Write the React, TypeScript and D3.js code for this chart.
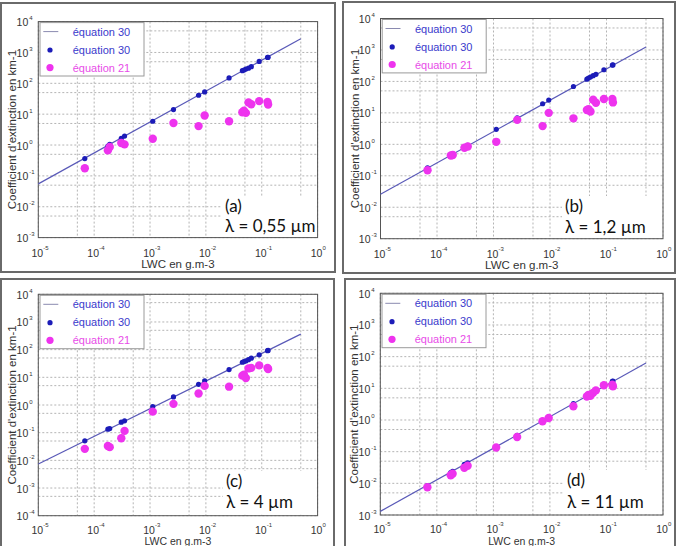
import React from "react";
import * as d3 from "d3";

// LWC (g.m-3) shared by the four panels
const LWC = [
  6.8e-5, 1.76e-4, 1.9e-4, 3.06e-4, 3.5e-4, 1.12e-3, 2.63e-3, 7.4e-3, 9.5e-3,
  0.026, 0.045, 0.048, 0.052, 0.058, 0.065, 0.09, 0.127, 0.13,
];

// fitted line (équation 30) : LWC at both ends, then extinction per panel
const FIT_X = [1e-5, 0.5];
const fitA = [0.055, 2800];
const fitB = [0.026, 1250];
const fitC = [0.0074, 365];
const fitD = [0.0013, 63];

// extinction coefficient (km-1), équation 30 points
const blueA = [0.364, 0.93, 1.05, 1.64, 1.95, 5.9, 14.1, 41, 52.5, 149, 257, 270, 290, 310, 345, 513, 690, 700];
const blueB = [0.18, 0.46, 0.5, 0.8, 0.92, 3.0, 6.9, 19.5, 25.5, 69, 118, 128, 138, 152, 168, 235, 330, 335];
const blueC = [0.0506, 0.134, 0.141, 0.24, 0.267, 0.875, 1.96, 5.6, 7.4, 19, 35, 37, 39, 43.6, 49, 65, 92, 94];
const blueD = [0.0085, 0.022, 0.024, 0.04, 0.044, 0.14, 0.33, 0.93, 1.2, 3.3, 5.7, 6.1, 6.6, 7.4, 8.3, 11.5, 16.5, 16.8];

// équation 21 points
const pinkA = [0.177, 0.67, 0.86, 1.16, 1.05, 1.6, 5.2, 4.1, 9.1, 5.9, 11.6, 13, 11, 24, 21, 26.5, 25, 20.5];
const pinkB = [0.15, 0.44, 0.46, 0.78, 0.85, 1.2, 6.0, 3.8, 10, 6.7, 12.4, 13, 11, 26, 21, 27.5, 27.5, 21.5];
const pinkC = [0.026, 0.033, 0.03, 0.063, 0.116, 0.575, 1.1, 2.6, 4.9, 4.6, 11.5, 12.5, 9.5, 21, 22, 27, 22, 20];
const pinkD = [0.0075, 0.018, 0.02, 0.031, 0.036, 0.135, 0.29, 0.91, 1.16, 2.7, 5.5, 6.2, 5.8, 7.2, 8.6, 12.5, 13, 11.5];

const X_EXP = [-5, 0];
const LEGEND = ["équation 30", "équation 30", "équation 21"];
const Y_TITLE = "Coefficient d'extinction en km-1";
const X_TITLE = "LWC en g.m-3";

const PANELS = [
  { frame: [1, 3, 334, 269], xr: [38.3, 317.6], yr: [237.6, 21.6], yExp: [-3, 4], fit: fitA, blue: blueA, pink: pinkA, tag: "(a)", lambda: "λ = 0,55 µm", note: [225, 212, 232] },
  { frame: [343, 2, 332, 271], xr: [380.5, 663], yr: [238.7, 18.5], yExp: [-3, 4], fit: fitB, blue: blueB, pink: pinkB, tag: "(b)", lambda: "λ = 1,2 µm", note: [565, 212, 233] },
  { frame: [1, 279, 333, 272], xr: [38.3, 317.6], yr: [515.7, 294.3], yExp: [-4, 4], fit: fitC, blue: blueC, pink: pinkC, tag: "(c)", lambda: "λ = 4 µm", note: [226, 487, 508] },
  { frame: [345, 279, 330, 272], xr: [380.3, 663], yr: [515, 293.3], yExp: [-3, 4], fit: fitD, blue: blueD, pink: pinkD, tag: "(d)", lambda: "λ = 11 µm", note: [567, 486, 508] },
];

const SANS = "'Liberation Sans', Arial, sans-serif";
const BLUE = "#1c1cb8";
const PINK = "#ee33ee";

function gridValues(lo, hi) {
  const out = [];
  for (let e = lo; e <= hi; e++) {
    out.push(Number(`1e${e}`));
    if (e < hi) out.push(Number(`5e${e}`));
  }
  return out;
}

function Panel({ p }) {
  const x = d3.scaleLog().domain([Number(`1e${X_EXP[0]}`), Number(`1e${X_EXP[1]}`)]).range(p.xr);
  const y = d3.scaleLog().domain([Number(`1e${p.yExp[0]}`), Number(`1e${p.yExp[1]}`)]).range(p.yr);
  const [x0, x1] = p.xr;
  const [yb, yt] = p.yr;
  const xTicks = d3.range(X_EXP[0], X_EXP[1] + 1);
  const yTicks = d3.range(p.yExp[0], p.yExp[1] + 1);
  const line = d3.line().x((d) => x(d[0])).y((d) => y(d[1]));
  const fitPts = FIT_X.map((v, i) => [v, p.fit[i]]);
  const [nx, ny1, ny2] = p.note;
  // bottom panels are cut by the page edge: squeeze labels to stay inside
  const cut = yb + 30.5 > 543;
  const tickY = cut ? yb + 18 : yb + 19.5;
  const xTitleY = cut ? 544.5 : yb + 30.5;
  const xTitleSize = cut ? 10.5 : 11.5;

  return (
    <g>
      <rect x={p.frame[0]} y={p.frame[1]} width={p.frame[2]} height={p.frame[3]} fill="#fff" stroke="#6a6a6a" strokeWidth={2} />

      {/* grid */}
      <g stroke="#b4b4b4" strokeWidth={1} strokeDasharray="2,2">
        {gridValues(X_EXP[0], X_EXP[1]).map((v, i) => (
          <line key={"gx" + i} x1={x(v)} x2={x(v)} y1={yt} y2={yb} />
        ))}
        {gridValues(p.yExp[0], p.yExp[1]).map((v, i) => (
          <line key={"gy" + i} x1={x0} x2={x1} y1={y(v)} y2={y(v)} />
        ))}
      </g>
      <rect x={x0} y={yt} width={x1 - x0} height={yb - yt} fill="none" stroke="#555" strokeWidth={1} />

      {/* tick labels */}
      <g fill="#333" fontFamily={SANS}>
        {xTicks.map((e) => (
          <g key={"tx" + e}>
            <text x={x(Number(`1e${e}`)) - 1} y={tickY} fontSize={10.5} textAnchor="middle">10</text>
            <text x={x(Number(`1e${e}`)) + 5} y={tickY - 7} fontSize={6}>{e}</text>
          </g>
        ))}
        {yTicks.map((e) => (
          <g key={"ty" + e}>
            <text x={x0 - 10} y={y(Number(`1e${e}`)) + 4.5} fontSize={10.5} textAnchor="end">10</text>
            <text x={x0 - 9} y={y(Number(`1e${e}`)) - 1.5} fontSize={6}>{e}</text>
          </g>
        ))}
        <text x={(x0 + x1) / 2} y={xTitleY} fontSize={xTitleSize} textAnchor="middle">{X_TITLE}</text>
        <text transform={`translate(${x0 - 22},${(yt + yb) / 2}) rotate(-90)`} fontSize={11.5} textAnchor="middle">{Y_TITLE}</text>
      </g>

      {/* data */}
      <path d={line(fitPts)} fill="none" stroke="#5a5ab8" strokeWidth={1.2} />
      {LWC.map((v, i) => (
        <circle key={"b" + i} cx={x(v)} cy={y(p.blue[i])} r={2.6} fill={BLUE} />
      ))}
      {LWC.map((v, i) => (
        <circle key={"p" + i} cx={x(v)} cy={y(p.pink[i])} r={4.2} fill={PINK} />
      ))}

      {/* legend */}
      <rect x={x0 + 1.7} y={yt + 1} width={104} height={53.4} fill="#fff" stroke="#9a9a9a" strokeWidth={1} />
      <line x1={x0 + 5} x2={x0 + 20} y1={yt + 10} y2={yt + 10} stroke="#8a8ab0" strokeWidth={1} />
      <circle cx={x0 + 11.7} cy={yt + 28.4} r={2.6} fill={BLUE} />
      <circle cx={x0 + 11.7} cy={yt + 46} r={3.6} fill={PINK} />
      {LEGEND.map((t, i) => (
        <text key={"l" + i} x={x0 + 34.4} y={yt + 14 + i * 18} fontSize={11} fontFamily={SANS} fill={i < 2 ? "#3a3acc" : "#e84ce8"}>
          {t}
        </text>
      ))}

      {/* annotation */}
      <rect x={nx - 3} y={ny1 - 16} width={x1 - nx + 2} height={yb - ny1 + 15} fill="#fff" />
      <g fontFamily="Lato, 'Open Sans', sans-serif" fontSize={17} fill="#111">
        <text x={nx} y={ny1}>{p.tag}</text>
        <text x={nx} y={ny2}>{p.lambda}</text>
      </g>
    </g>
  );
}

export default function App() {
  return (
    <svg width={679} height={546} style={{ position: "absolute", left: 0, top: 0, background: "#fff" }}>
      {PANELS.map((p) => (
        <Panel key={p.tag} p={p} />
      ))}
    </svg>
  );
}
